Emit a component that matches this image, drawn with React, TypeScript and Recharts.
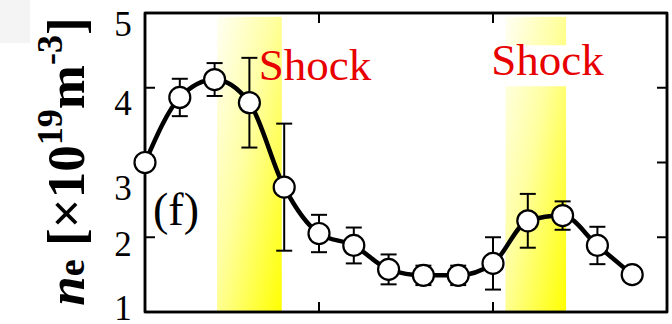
import React from 'react';
import { ComposedChart, Line, XAxis, YAxis, ErrorBar, ReferenceArea } from 'recharts';

// ---- data ----
const positions = [0, 1, 2, 3, 4, 5, 6, 7, 8, 9, 10, 11, 12, 13, 14];
const neValues = [3.0, 3.87, 4.11, 3.8, 2.67, 2.05, 1.89, 1.57, 1.49, 1.49, 1.65, 2.22, 2.29, 1.89, 1.5];
const neErrors = [0, 0.25, 0.22, 0.6, 0.85, 0.25, 0.24, 0.2, 0.13, 0.13, 0.35, 0.36, 0.19, 0.25, 0];
const yTicks = [1, 2, 3, 4, 5];
const xTicks = [5, 10];
const shockBands: [number, number][] = [[2.07, 3.93], [10.36, 12.1]];
const shockLabels = [
  { x: 3.27, y: 4.1, text: 'Shock' },
  { x: 9.95, y: 4.17, text: 'Shock' },
];
const panelLabel = { x: 0.23, y: 2.16, text: '(f)' };

const data = positions.map((x, i) => ({ x, ne: neValues[i], err: [neErrors[i], neErrors[i]] }));

const FONT = '"Liberation Serif", "Times New Roman", Times, serif';

// per-label vertical nudge of the y tick labels (style only)
const tickNudge: Record<number, number> = { 5: 23, 4: 27, 3: 37, 2: 19, 1: 8 };

const YTick = (props: any) => {
  const { x, y, payload } = props;
  const v = payload.value;
  return (
    <text
      x={x - 14}
      y={y + (tickNudge[v] ?? 12)}
      textAnchor="middle"
      fontFamily={FONT}
      style={{ fontFamily: FONT }}
      fontSize={35}
      fill="#000"
    >
      {v}
    </text>
  );
};

const NoTick = () => <g />;

const YTitle = (props: any) => {
  const vb = props.viewBox || { x: 0, y: 13, width: 145, height: 299 };
  const cx = vb.x + 84;
  const cy = vb.y + vb.height / 2 - 1;
  return (
    <text
      transform={`translate(${cx}, ${cy}) rotate(-90)`}
      textAnchor="middle"
      fontFamily={FONT}
      style={{ fontFamily: FONT }}
      fontWeight="bold"
      fontSize={53}
      fill="#000"
    >
      <tspan fontStyle="italic">n</tspan>
      <tspan fontSize={38}>e</tspan>
      <tspan> [×10</tspan>
      <tspan fontSize={36} dy={-22}>19</tspan>
      <tspan dy={22}>m</tspan>
      <tspan fontSize={36} dy={-22}>-3</tspan>
      <tspan dy={22}>]</tspan>
    </text>
  );
};

const makeText = (text: string, color: string, size: number) => (props: any) => {
  const vb = props.viewBox;
  if (!vb) return null;
  return (
    <text
      x={vb.x}
      y={vb.y + vb.height}
      fontFamily={FONT}
      style={{ fontFamily: FONT }}
      fontSize={size}
      fill={color}
    >
      {text}
    </text>
  );
};

const axisLineStyle = { stroke: '#000', strokeWidth: 2.5 };
const tickLineStyle = { stroke: '#000', strokeWidth: 2 };

export default function App() {
  return (
    <div style={{ position: 'absolute', left: 0, top: 0, width: 672, height: 324, background: '#fff' }}>
      <div style={{ position: 'absolute', left: 0, top: 0, width: 30, height: 43, background: '#f4f4f4' }} />
      <ComposedChart
        width={672}
        height={324}
        data={data}
        margin={{ top: 13, right: 5, bottom: 12, left: 0 }}
        style={{ position: 'absolute', left: 0, top: 0 }}
      >
        <defs>
          <linearGradient id="shockGrad" x1="0" y1="0" x2="1" y2="1">
            <stop offset="0" stopColor="#fffff4" />
            <stop offset="0.45" stopColor="#ffffa0" />
            <stop offset="1" stopColor="#ffff00" />
          </linearGradient>
        </defs>
        <XAxis
          dataKey="x"
          type="number"
          domain={[0, 15]}
          ticks={xTicks}
          mirror
          height={30}
          tick={NoTick}
          tickSize={10}
          axisLine={axisLineStyle}
          tickLine={tickLineStyle}
        />
        <XAxis
          xAxisId="top"
          orientation="top"
          dataKey="x"
          type="number"
          domain={[0, 15]}
          ticks={xTicks}
          mirror
          height={30}
          tick={NoTick}
          tickSize={10}
          axisLine={axisLineStyle}
          tickLine={tickLineStyle}
        />
        <YAxis
          type="number"
          domain={[1, 5]}
          ticks={yTicks}
          width={145}
          axisLine={false}
          tickLine={false}
          tick={YTick}
          label={YTitle}
        />
        <YAxis
          yAxisId="leftIn"
          orientation="left"
          type="number"
          domain={[1, 5]}
          ticks={yTicks}
          mirror
          width={30}
          tick={NoTick}
          tickSize={10}
          axisLine={axisLineStyle}
          tickLine={tickLineStyle}
        />
        <YAxis
          yAxisId="rightIn"
          orientation="right"
          type="number"
          domain={[1, 5]}
          ticks={yTicks}
          mirror
          width={30}
          tick={NoTick}
          tickSize={10}
          axisLine={axisLineStyle}
          tickLine={tickLineStyle}
        />
        {shockBands.map(([a, b], i) => (
          <ReferenceArea key={`band${i}`} x1={a} x2={b} y1={1} y2={4.95} fill="url(#shockGrad)" fillOpacity={1} stroke="none" />
        ))}
        <ReferenceArea x1={shockBands[1][0]} x2={shockBands[1][1]} y1={4.02} y2={4.57} fill="#fff" fillOpacity={1} stroke="none" />
        {shockLabels.map((l, i) => (
          <ReferenceArea
            key={`lab${i}`}
            x1={l.x}
            x2={l.x + 3}
            y1={l.y}
            y2={l.y + 0.4}
            fill="none"
            stroke="none"
            label={makeText(l.text, '#e80000', 45)}
          />
        ))}
        <ReferenceArea
          x1={panelLabel.x}
          x2={panelLabel.x + 1.4}
          y1={panelLabel.y}
          y2={panelLabel.y + 0.4}
          fill="none"
          stroke="none"
          label={makeText(panelLabel.text, '#000', 46)}
        />
        <ReferenceArea
          x1={0}
          x2={15}
          y1={1}
          y2={5}
          fill="none"
          fillOpacity={0}
          stroke="#000"
          strokeWidth={2.5}
          ifOverflow="visible"
        />
        <Line
          xAxisId="top"
          yAxisId="leftIn"
          dataKey="ne"
          stroke="none"
          dot={false}
          activeDot={false}
          legendType="none"
          isAnimationActive={false}
        />
        <Line
          xAxisId="top"
          yAxisId="rightIn"
          dataKey="ne"
          stroke="none"
          dot={false}
          activeDot={false}
          legendType="none"
          isAnimationActive={false}
        />
        <Line
          dataKey="ne"
          type="monotone"
          stroke="#000"
          strokeWidth={4.5}
          isAnimationActive={false}
          dot={{ r: 10.5, fill: '#fff', stroke: '#000', strokeWidth: 2.2 }}
        >
          <ErrorBar dataKey="err" direction="y" width={8} stroke="#000" strokeWidth={2} />
        </Line>
      </ComposedChart>
    </div>
  );
}
